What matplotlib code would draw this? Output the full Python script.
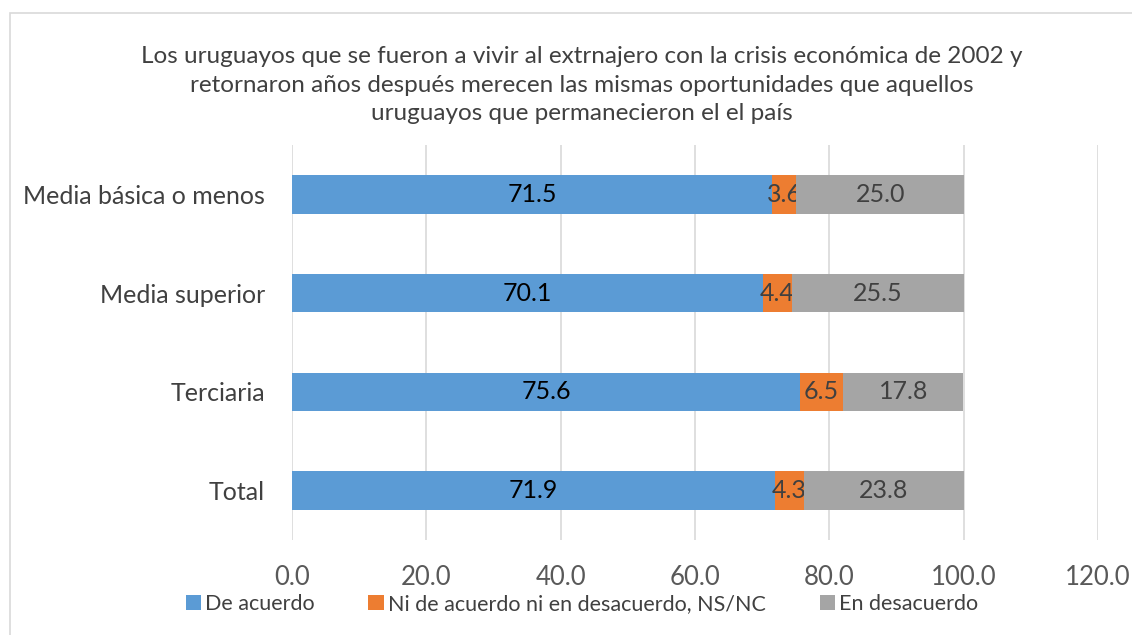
import matplotlib.pyplot as plt
from matplotlib.patches import Rectangle
import numpy as np

plt.rcParams['font.family'] = ['Lato', 'DejaVu Sans']

# datos
categorias = ["Media básica o menos", "Media superior", "Terciaria", "Total"]
de_acuerdo = [71.5, 70.1, 75.6, 71.9]
ni_ni = [3.6, 4.4, 6.5, 4.3]
desacuerdo = [25.0, 25.5, 17.8, 23.8]
series_nombres = ["De acuerdo", "Ni de acuerdo ni en desacuerdo, NS/NC", "En desacuerdo"]
colores = ["#5B9BD5", "#ED7D31", "#A5A5A5"]
colores_texto = ["black", "#404040", "#404040"]
titulo = ("Los uruguayos que se fueron a vivir al extrnajero con la crisis económica de 2002 y\n"
          "retornaron años después merecen las mismas oportunidades que aquellos\n"
          "uruguayos que permanecieron el el país")

fig = plt.figure(figsize=(11.32, 6.35), dpi=100)
ax = fig.add_axes([0.258, 0.1496, 0.712, 0.622])

# borde del gráfico
fig.patches.append(Rectangle((0.009, -0.01), 1.2, 0.99, transform=fig.transFigure,
                             fill=False, edgecolor="#D9D9D9", linewidth=1.2))

y = np.arange(len(categorias))
izq = np.zeros(len(categorias))
for vals, nombre, col, ctxt in zip([de_acuerdo, ni_ni, desacuerdo], series_nombres, colores, colores_texto):
    barras = ax.barh(y, vals, left=izq, height=0.39, color=col, label=nombre, zorder=3)
    ax.bar_label(barras, labels=[f"{v:.1f}" for v in vals], label_type="center",
                 fontsize=18, color=ctxt)
    izq = izq + np.array(vals)

ax.set_yticks(y)
ax.set_yticklabels(categorias, fontsize=18, color="#404040")
ax.set_ylim(3.5, -0.5)
ax.set_xlim(0, 120)
ax.set_xticks(np.arange(0, 121, 20))
ax.set_xticklabels([f"{v:.1f}" for v in np.arange(0, 121, 20)], fontsize=18.5, color="#595959")
ax.tick_params(axis="both", length=0)
ax.tick_params(axis="x", pad=18)
ax.tick_params(axis="y", pad=19.5)
ax.grid(axis="x", color="#D9D9D9", linewidth=1.2, zorder=0)
for s in ax.spines.values():
    s.set_visible(False)

fig.text(0.514, 0.866, titulo, ha="center", va="center", fontsize=17.5,
         color="#404040", linespacing=1.44)

ax.legend(loc="center", bbox_to_anchor=(0.514, 0.049), bbox_transform=fig.transFigure,
          ncol=3, frameon=False, fontsize=15.5, handlelength=0.7, handleheight=0.7,
          handletextpad=0.2, columnspacing=2.5, labelcolor="#404040")

plt.savefig("out.png", dpi=100)
